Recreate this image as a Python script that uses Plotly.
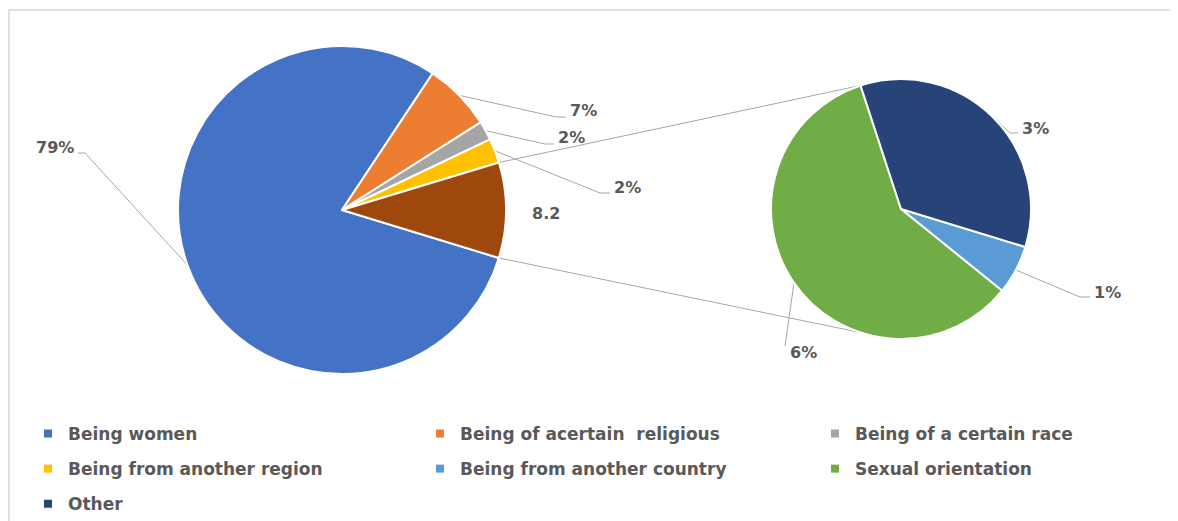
import math
import plotly.graph_objects as go

# ---------------- data ----------------
main_labels = ["Being women", "Being of acertain  religious", "Being of a certain race",
               "Being from another region", "Other (combined)"]
main_values = [79.6, 6.7, 1.9, 2.4, 9.4]
main_text = ["79%", "7%", "2%", "2%", "8.2"]

sec_labels = ["Being from another country", "Sexual orientation", "Other"]
sec_values = [0.5, 4.85, 2.85]
sec_text = ["1%", "6%", "3%"]

legend_columns = [
    ["Being women", "Being from another region", "Other"],
    ["Being of acertain  religious", "Being from another country"],
    ["Being of a certain race", "Sexual orientation"],
]

# ---------------- style / layout ----------------
W, H = 1178, 521
OFF = 8  # page body margin: layout below is given in page pixels
COLORS = {
    "Being women": "#4472C4",
    "Being of acertain  religious": "#ED7D31",
    "Being of a certain race": "#A5A5A5",
    "Being from another region": "#FFC000",
    "Other (combined)": "#9E480E",
    "Being from another country": "#5B9BD5",
    "Sexual orientation": "#70AD47",
    "Other": "#264478",
}
TXT = "#595959"
LEAD = "#A6A6A6"
FONT = "DejaVu Sans"
ROT = 107
C1, R1 = (342, 210), 164
C2, R2 = (901, 209), 130
LEG_X = [28, 420, 815]
LEG_TOP = 416

# label layout: (text x, text y, xanchor, elbow points of leader or None)
MAIN_LBL = [
    (76, 147, "right", [(85, 153), (78, 153)]),
    (568, 110, "left", [(556, 117), (566, 117)]),
    (556, 137, "left", [(545, 144), (554, 144)]),
    (612, 187, "left", [(600, 193), (610, 193)]),
    (530, 213, "left", None),
]
SEC_LBL = [
    (1092, 292, "left", [(1080, 297), (1090, 297)]),
    (788, 352, "left", [(785, 346)]),
    (1020, 128, "left", [(1010, 133), (1018, 133)]),
]


def dom(c, r):
    cx, cy = c[0] - OFF, c[1] - OFF
    return dict(x=[(cx - r) / W, (cx + r) / W], y=[1 - (cy + r) / H, 1 - (cy - r) / H])


def pt(c, r, deg):
    a = math.radians(deg)
    return (c[0] + r * math.sin(a), c[1] - r * math.cos(a))


def bounds(vals):
    tot = sum(vals)
    out, a = [], ROT
    for v in vals:
        b = a + 360 * v / tot
        out.append((a, b))
        a = b
    return out


fig = go.Figure()
fig.add_trace(go.Pie(labels=main_labels, values=main_values, sort=False, direction="clockwise",
                     rotation=ROT, textinfo="none", showlegend=False, domain=dom(C1, R1),
                     marker=dict(colors=[COLORS[l] for l in main_labels], line=dict(color="white", width=2))))
fig.add_trace(go.Pie(labels=sec_labels, values=sec_values, sort=False, direction="clockwise",
                     rotation=ROT, textinfo="none", showlegend=False, domain=dom(C2, R2),
                     marker=dict(colors=[COLORS[l] for l in sec_labels], line=dict(color="white", width=2))))

# legend entries (one legend per column)
for i, col in enumerate(legend_columns):
    for lab in col:
        fig.add_trace(go.Scatter(x=[None], y=[None], mode="markers", name=lab, legendgroup=lab,
                                 legend="legend" if i == 0 else f"legend{i+1}",
                                 marker=dict(symbol="square", size=8, color=COLORS[lab])))

shapes, annotations = [], []


def add_labels(c, r, vals, texts, layout):
    for (a0, a1), t, (tx, ty, anch, elbow) in zip(bounds(vals), texts, layout):
        if elbow:
            p0 = pt(c, r, (a0 + a1) / 2)
            pts = [p0] + elbow
            path = "M " + " L ".join(f"{x:.1f},{y:.1f}" for x, y in pts)
            shapes.append(dict(type="path", path=path, xref="x", yref="y",
                               line=dict(color=LEAD, width=1), layer="below"))
        annotations.append(dict(x=tx, y=ty, xref="x", yref="y", text=t, showarrow=False,
                                xanchor=anch, yanchor="middle",
                                font=dict(family=FONT, size=16, color=TXT, weight="bold")))


add_labels(C1, R1, main_values, main_text, MAIN_LBL)
add_labels(C2, R2, sec_values, sec_text, SEC_LBL)

# pie-of-pie connectors
mb = bounds(main_values)[-1]
sb = bounds(sec_values)
top_ang = sb[-1][0]
bot_ang = 540 - top_ang
for ma, sa in [(mb[0], top_ang), (mb[1], bot_ang)]:
    p0, p1 = pt(C1, R1, ma), pt(C2, R2, sa)
    shapes.append(dict(type="line", xref="x", yref="y", x0=p0[0], y0=p0[1], x1=p1[0], y1=p1[1],
                       line=dict(color=LEAD, width=1), layer="below"))

# chart border
shapes.append(dict(type="rect", xref="x", yref="y", x0=9, y0=10, x1=1230, y1=560,
                   line=dict(color="#D9D9D9", width=1.5), layer="below"))


def leg(xpx):
    return dict(orientation="v", xanchor="left", yanchor="top",
                x=(xpx - OFF) / W, y=1 - (LEG_TOP - OFF) / H,
                traceorder="grouped", tracegroupgap=10, bgcolor="rgba(0,0,0,0)",
                font=dict(family=FONT, size=17, color=TXT, weight="bold"))


fig.update_layout(
    width=W, height=H,
    margin=dict(l=0, r=0, t=0, b=0),
    paper_bgcolor="white", plot_bgcolor="white",
    font=dict(family=FONT, color=TXT),
    xaxis=dict(visible=False, range=[OFF, W + OFF], fixedrange=True),
    yaxis=dict(visible=False, range=[H + OFF, OFF], fixedrange=True),
    legend=leg(LEG_X[0]),
    legend2=leg(LEG_X[1]),
    legend3=leg(LEG_X[2]),
    shapes=shapes,
    annotations=annotations,
)

fig.write_html("out.html")
